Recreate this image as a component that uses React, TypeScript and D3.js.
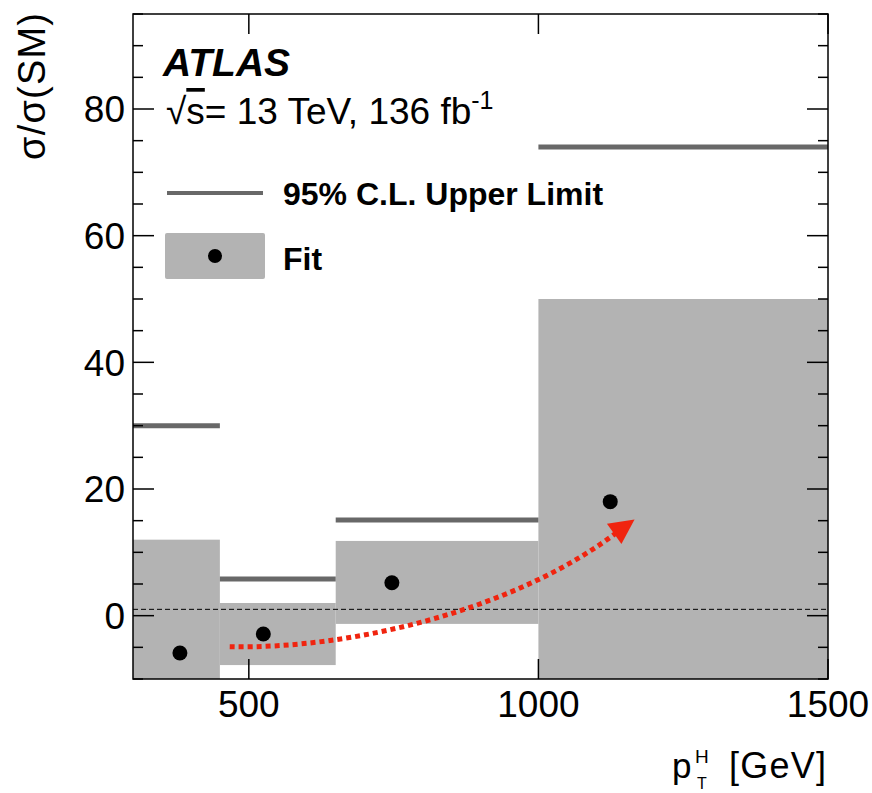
import React, { useRef, useEffect } from "react";
import { select, scaleLinear, range } from "d3";

// bins in pT^H [GeV]
const binEdges = [300, 450, 650, 1000, 1500];
// fitted signal strength per bin (points)
const fitX = [381, 525, 747, 1124];
const fitY = [-5.9, -2.9, 5.2, 18.0];
// fit uncertainty band per bin (low ends of bin 1 and 4 run off the frame)
const bandLow = [-15, -7.8, -1.3, -15];
const bandHigh = [12.0, 2.0, 11.8, 50.0];
// 95% CL upper limits
const upperLimits = [30.0, 5.8, 15.1, 74.0];
const smValue = 1;

const xTicks = [500, 1000, 1500];
const yTicks = [0, 20, 40, 60, 80];
const yMinorTicks = range(-10, 96, 5);

// annotation arrow (cubic curve in data coordinates) and its tip
const arrowCurve = [
  [467, -4.9],
  [675, -5.35],
  [968, 0.95],
  [1146, 13.9],
];
const arrowTip = [1166, 15.2];

const W = 872;
const H = 793;
const margin = { left: 133, right: 44, top: 14, bottom: 114 };
const FONT = "'Liberation Sans', Arial, Helvetica, sans-serif";

function LimitChart() {
  const svgRef = useRef(null);

  useEffect(() => {
    const svg = select(svgRef.current);
    svg.selectAll("*").remove();

    const x0 = margin.left, x1 = W - margin.right;
    const y0 = H - margin.bottom, y1 = margin.top;

    const xScale = scaleLinear().domain([300, 1500]).range([x0, x1]);
    const yScale = scaleLinear().domain([-10, 95]).range([y0, y1]);

    svg.append("defs").append("clipPath")
      .attr("id", "plotClip")
      .append("rect")
      .attr("x", x0).attr("y", y1)
      .attr("width", x1 - x0).attr("height", y0 - y1);

    const plot = svg.append("g").attr("clip-path", "url(#plotClip)");

    const bins = binEdges.slice(0, -1).map((lo, i) => ({
      lo, hi: binEdges[i + 1],
      low: bandLow[i], high: bandHigh[i],
      limit: upperLimits[i],
      fx: fitX[i], fy: fitY[i],
    }));

    // fit bands
    plot.selectAll(".band")
      .data(bins)
      .join("rect")
      .attr("class", "band")
      .attr("x", d => xScale(d.lo))
      .attr("width", d => xScale(d.hi) - xScale(d.lo))
      .attr("y", d => yScale(d.high))
      .attr("height", d => yScale(d.low) - yScale(d.high))
      .attr("fill", "#b3b3b3");

    // SM reference
    plot.append("line")
      .attr("x1", x0).attr("x2", x1)
      .attr("y1", yScale(smValue)).attr("y2", yScale(smValue))
      .attr("stroke", "#000").attr("stroke-width", 1)
      .attr("stroke-dasharray", "5 3");

    // upper limits
    plot.selectAll(".limit")
      .data(bins)
      .join("line")
      .attr("class", "limit")
      .attr("x1", d => xScale(d.lo)).attr("x2", d => xScale(d.hi))
      .attr("y1", d => yScale(d.limit)).attr("y2", d => yScale(d.limit))
      .attr("stroke", "#686868").attr("stroke-width", 5);

    // fit points
    plot.selectAll(".pt")
      .data(bins)
      .join("circle")
      .attr("class", "pt")
      .attr("cx", d => xScale(d.fx))
      .attr("cy", d => yScale(d.fy))
      .attr("r", 7.5)
      .attr("fill", "#000");

    // red dotted arrow
    const [p0, c1, c2, p3] = arrowCurve.map(d => [xScale(d[0]), yScale(d[1])]);
    plot.append("path")
      .attr("d", `M${p0[0]},${p0[1]} C${c1[0]},${c1[1]} ${c2[0]},${c2[1]} ${p3[0]},${p3[1]}`)
      .attr("fill", "none")
      .attr("stroke", "#f0240f")
      .attr("stroke-width", 5)
      .attr("stroke-dasharray", "5 4");

    const tip = [xScale(arrowTip[0]), yScale(arrowTip[1])];
    const dx = tip[0] - p3[0], dy = tip[1] - p3[1];
    const len = Math.hypot(dx, dy);
    const ux = dx / len, uy = dy / len;
    const hl = 25, hw = 12.5;
    const bx = tip[0] - ux * hl, by = tip[1] - uy * hl;
    plot.append("path")
      .attr("d", `M${tip[0]},${tip[1]} L${bx - uy * hw},${by + ux * hw} L${bx + uy * hw},${by - ux * hw} Z`)
      .attr("fill", "#f0240f");

    // frame
    svg.append("rect")
      .attr("x", x0).attr("y", y1)
      .attr("width", x1 - x0).attr("height", y0 - y1)
      .attr("fill", "none").attr("stroke", "#000").attr("stroke-width", 1.5);

    const ticks = svg.append("g").attr("stroke", "#000").attr("stroke-width", 1.5);

    // y ticks, both sides
    yMinorTicks.forEach(v => {
      const major = yTicks.includes(v);
      const L = major ? 21 : 10;
      const y = yScale(v);
      ticks.append("line").attr("x1", x0).attr("x2", x0 + L).attr("y1", y).attr("y2", y);
      ticks.append("line").attr("x1", x1).attr("x2", x1 - L).attr("y1", y).attr("y2", y);
    });
    // x ticks, bottom and top
    xTicks.forEach(v => {
      const x = xScale(v);
      ticks.append("line").attr("x1", x).attr("x2", x).attr("y1", y0).attr("y2", y0 - 20);
      ticks.append("line").attr("x1", x).attr("x2", x).attr("y1", y1).attr("y2", y1 + 20);
    });

    // tick labels
    svg.selectAll(".ylab")
      .data(yTicks)
      .join("text")
      .attr("class", "ylab")
      .attr("x", x0 - 8)
      .attr("y", d => yScale(d))
      .attr("dy", "0.36em")
      .attr("text-anchor", "end")
      .attr("font-family", FONT).attr("font-size", 37)
      .text(d => d);

    svg.selectAll(".xlab")
      .data(xTicks)
      .join("text")
      .attr("class", "xlab")
      .attr("x", d => xScale(d))
      .attr("y", y0 + 38)
      .attr("text-anchor", "middle")
      .attr("font-family", FONT).attr("font-size", 37)
      .text(d => d);

    // axis titles
    svg.append("text")
      .attr("transform", `translate(45, 13) rotate(-90)`)
      .attr("text-anchor", "end")
      .attr("font-family", FONT).attr("font-size", 38)
      .attr("textLength", 147).attr("lengthAdjust", "spacing")
      .text("σ/σ(SM)");

    const xt = svg.append("g").attr("font-family", FONT);
    xt.append("text").attr("x", 672).attr("y", 778).attr("font-size", 35).text("p");
    xt.append("text").attr("x", 695).attr("y", 763).attr("font-size", 19).text("H");
    xt.append("text").attr("x", 697).attr("y", 789).attr("font-size", 16).text("T");
    xt.append("text").attr("x", 826).attr("y", 778).attr("text-anchor", "end")
      .attr("font-size", 36).attr("textLength", 97).attr("lengthAdjust", "spacing")
      .text("[GeV]");

    // labels
    svg.append("text")
      .attr("x", 163).attr("y", 76)
      .attr("font-family", FONT).attr("font-size", 39)
      .attr("font-weight", "bold").attr("font-style", "italic")
      .text("ATLAS");

    const sub = svg.append("text")
      .attr("x", 166).attr("y", 124)
      .attr("font-family", FONT).attr("font-size", 37);
    sub.append("tspan").text("√");
    sub.append("tspan").attr("text-decoration", "overline").text("s");
    sub.append("tspan").text("= 13 TeV, 136 fb");
    sub.append("tspan").attr("dy", -15).attr("font-size", 25).text("-1");

    // legend
    const lg = svg.append("g").attr("font-family", FONT).attr("font-weight", "bold");
    lg.append("line")
      .attr("x1", 167).attr("x2", 263).attr("y1", 193).attr("y2", 193)
      .attr("stroke", "#686868").attr("stroke-width", 4);
    lg.append("text").attr("x", 283).attr("y", 205).attr("font-size", 32)
      .text("95% C.L. Upper Limit");
    lg.append("rect")
      .attr("x", 165).attr("y", 233).attr("width", 100).attr("height", 46)
      .attr("rx", 2).attr("fill", "#b3b3b3");
    lg.append("circle").attr("cx", 215).attr("cy", 256).attr("r", 7).attr("fill", "#000");
    lg.append("text").attr("x", 283).attr("y", 270).attr("font-size", 32).text("Fit");
  }, []);

  return (
    <svg
      ref={svgRef}
      width={W}
      height={H}
      style={{ position: "absolute", left: 0, top: 0, display: "block", background: "#fff" }}
    />
  );
}

export default function App() {
  return <LimitChart />;
}
